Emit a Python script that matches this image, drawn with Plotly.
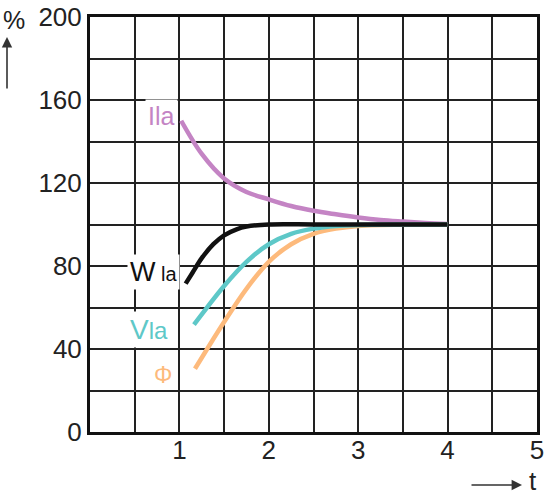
import plotly.graph_objects as go

# ---- data ----
t_I = [1.02, 1.25, 1.5, 1.75, 2.0, 2.25, 2.5, 2.75, 3.0, 3.25, 3.5, 3.75, 4.0]
I_la = [150.0, 134.0, 122.2, 115.7, 112.1, 108.9, 106.6, 104.9, 103.4, 102.2, 101.4, 100.7, 100.2]

t_W = [1.07, 1.15, 1.25, 1.38, 1.5, 1.64, 1.75, 2.0, 2.5, 3.0, 3.5, 4.0]
W_la = [71.5, 77.0, 83.8, 90.5, 94.8, 97.7, 99.0, 100.0, 100.0, 100.0, 100.0, 100.0]

t_V = [1.163, 1.3, 1.5, 1.75, 2.0, 2.25, 2.5, 2.75, 3.0, 3.5, 4.0]
V_la = [51.8, 59.5, 70.4, 82.0, 90.5, 95.5, 98.0, 99.3, 99.8, 100.0, 100.0]

t_F = [1.174, 1.3, 1.5, 1.75, 2.0, 2.25, 2.5, 2.75, 3.0, 3.5, 4.0]
Phi = [30.5, 39.3, 53.0, 69.0, 82.0, 90.5, 95.5, 98.0, 99.3, 100.0, 100.0]

x_tickvals = [0.5, 1, 1.5, 2, 2.5, 3, 3.5, 4, 4.5, 5]
x_ticktext = ["", "1", "", "2", "", "3", "", "4", "", "5"]
y_tickvals = [0, 20, 40, 60, 80, 100, 120, 140, 160, 180, 200]
y_ticktext = ["0", "", "40", "", "80", "", "120", "", "160", "", "200"]

FONT = "Liberation Sans, Arial, sans-serif"
C_I = "#C484C4"
C_W = "#111111"
C_V = "#5EC8C8"
C_F = "#FDBA7C"

fig = go.Figure()
fig.add_trace(go.Scatter(x=t_I, y=I_la, mode="lines", line=dict(color=C_I, width=4.5, shape="spline")))
fig.add_trace(go.Scatter(x=t_F, y=Phi, mode="lines", line=dict(color=C_F, width=4.5, shape="spline")))
fig.add_trace(go.Scatter(x=t_V, y=V_la, mode="lines", line=dict(color=C_V, width=4.5, shape="spline")))
fig.add_trace(go.Scatter(x=t_W, y=W_la, mode="lines", line=dict(color=C_W, width=4.5, shape="spline")))

ann = [
    dict(x=0.805, y=152.3, xref="x", yref="y", text="Ila", showarrow=False,
         xanchor="center", yanchor="middle",
         font=dict(family=FONT, size=25, color=C_I), bgcolor="white", borderpad=2),
    dict(x=0.705, y=77.1, xref="x", yref="y",
         text="W<span style='font-size:20px'> la</span>", showarrow=False,
         xanchor="center", yanchor="middle",
         font=dict(family=FONT, size=27, color="#111111"), bgcolor="white", borderpad=2),
    dict(x=0.66, y=49.2, xref="x", yref="y",
         text="V<span style='font-size:24px'>la</span>", showarrow=False,
         xanchor="center", yanchor="middle",
         font=dict(family=FONT, size=28, color=C_V), bgcolor="white", borderpad=2),
    dict(x=0.817, y=27.5, xref="x", yref="y", text="\u03a6", showarrow=False,
         xanchor="center", yanchor="middle",
         font=dict(family=FONT, size=23, color=C_F), bgcolor="white", borderpad=1),
    dict(x=(14 - 90) / 447, y=(432 - 20) / 415, xref="paper", yref="paper", text="%",
         xanchor="center", yanchor="middle",
         showarrow=False, font=dict(family=FONT, size=25, color="#222")),
    dict(x=(7 - 90) / 447, y=(432 - 37) / 415, xref="paper", yref="paper", text="",
         showarrow=True, ax=0, ay=53, arrowhead=2, arrowsize=1.3, arrowwidth=1.6,
         arrowcolor="#333"),
    dict(x=(522 - 90) / 447, y=(432 - 485) / 415, xref="paper", yref="paper", text="",
         showarrow=True, ax=-52, ay=0, arrowhead=2, arrowsize=1.3, arrowwidth=1.6,
         arrowcolor="#333"),
    dict(x=(533 - 90) / 447, y=(432 - 481) / 415, xref="paper", yref="paper", text="t",
         xanchor="center", yanchor="middle",
         showarrow=False, font=dict(family=FONT, size=26, color="#222")),
]

fig.update_layout(
    width=548, height=500, autosize=False,
    margin=dict(l=90, r=11, t=17, b=68),
    paper_bgcolor="white", plot_bgcolor="white",
    showlegend=False,
    font=dict(family=FONT, size=26, color="#222"),
    annotations=ann,
    xaxis=dict(range=[0, 5], tickvals=x_tickvals, ticktext=x_ticktext,
               showgrid=True, gridcolor="#222", gridwidth=2, zeroline=False,
               showline=True, mirror=True, linecolor="#111", linewidth=3,
               ticks="", automargin=False, ticklabelstandoff=-7,
               tickfont=dict(family=FONT, size=26, color="#222")),
    yaxis=dict(range=[0, 200], tickvals=y_tickvals, ticktext=y_ticktext,
               showgrid=True, gridcolor="#222", gridwidth=2, zeroline=False,
               showline=True, mirror=True, linecolor="#111", linewidth=3,
               ticks="", ticklabelstandoff=0, automargin=False,
               tickfont=dict(family=FONT, size=26, color="#222")),
)

fig.write_html("out.html", config={"displayModeBar": False},
               post_script="document.body.style.margin='0';document.body.style.padding='0';")
